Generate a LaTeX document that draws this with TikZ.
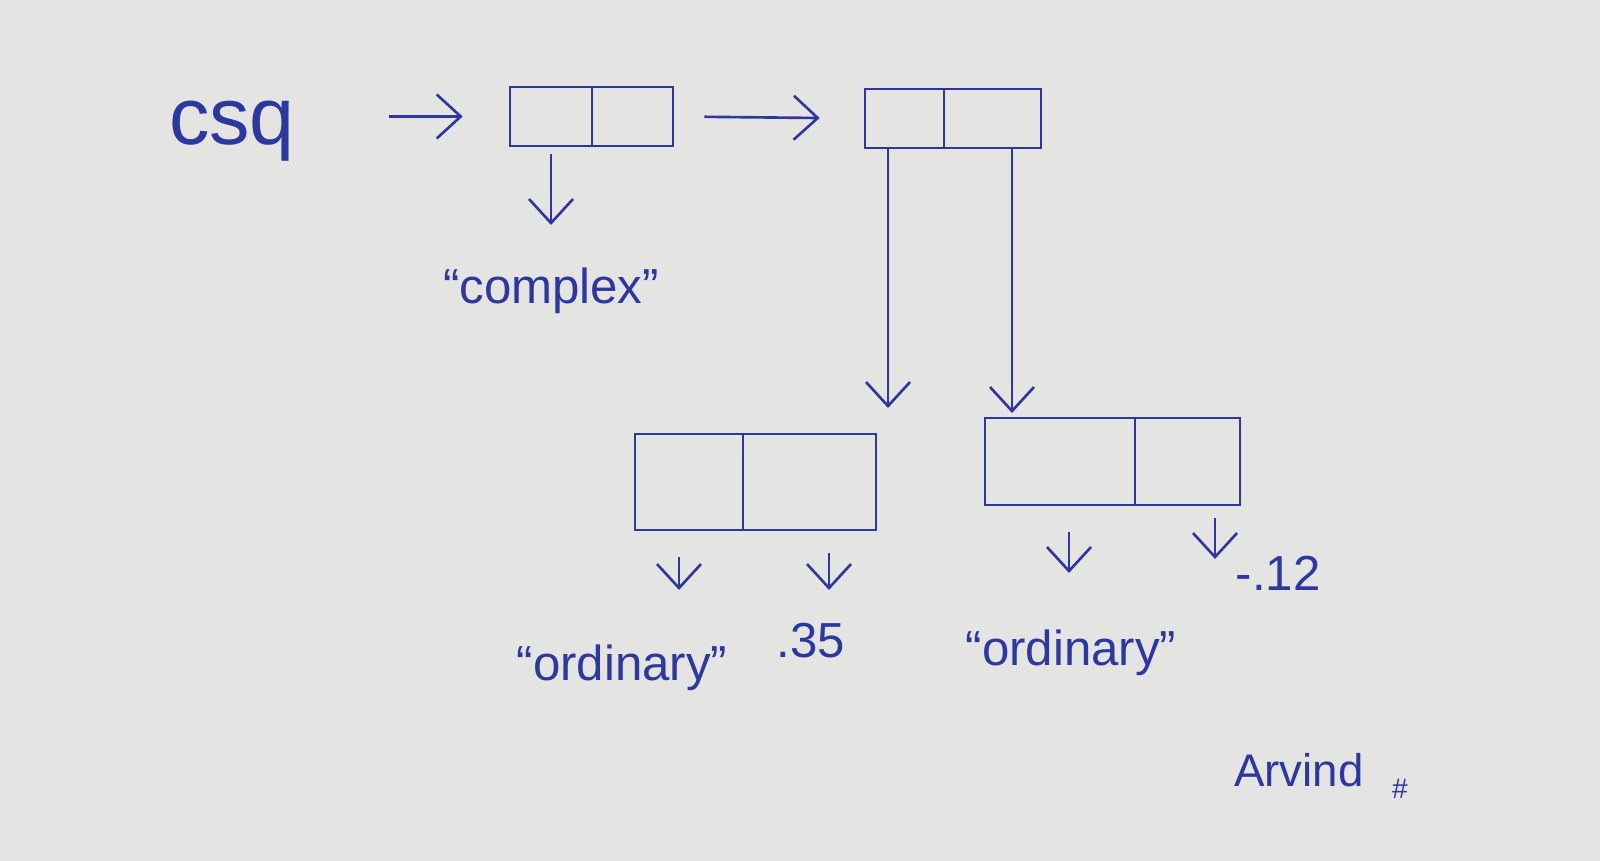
\documentclass[tikz,border=0pt]{standalone}
\usepackage{fontspec}
\setmainfont{Liberation Sans}
\usetikzlibrary{arrows.meta}

\definecolor{ink}{RGB}{45,55,160}
\definecolor{paper}{RGB}{228,228,226}

\tikzset{
  cell/.style={draw=ink, line width=0.75pt, inner sep=0pt},
  ptr/.style={ink, line width=0.75pt, ->},
  lbl/.style={text=ink, font=\fontsize{14}{16}\selectfont, inner sep=1pt}
}

\begin{document}
\begin{tikzpicture}[>={Straight Barb[length=2.4mm,width=4.4mm]}, scale=1]

  \fill[paper] (0,0) rectangle (16,8.61);

  % the name
  \node[lbl, font=\fontsize{23}{25}\selectfont] (csq) at (2.32,7.30) {csq};

  % cons cells
  \node[cell, minimum width=8.2mm, minimum height=5.9mm] (c1a) at (5.510,7.445) {};
  \node[cell, minimum width=8.1mm, minimum height=5.9mm] (c1b) at (6.325,7.445) {};

  \node[cell, minimum width=7.9mm, minimum height=5.9mm] (c2a) at (9.045,7.425) {};
  \node[cell, minimum width=9.7mm, minimum height=5.9mm] (c2b) at (9.925,7.425) {};

  \node[cell, minimum width=10.8mm, minimum height=9.6mm] (c3a) at (6.890,3.790) {};
  \node[cell, minimum width=13.3mm, minimum height=9.6mm] (c3b) at (8.095,3.790) {};

  \node[cell, minimum width=15mm, minimum height=8.7mm] (c4a) at (10.600,3.995) {};
  \node[cell, minimum width=10.5mm, minimum height=8.7mm] (c4b) at (11.875,3.995) {};

  % values
  \node[lbl] (cplx) at (5.51,5.70) {``complex''};
  \node[lbl] (ord1) at (6.22,1.93) {``ordinary''};
  \node[lbl] (val1) at (8.11,2.20) {.35};
  \node[lbl] (ord2) at (10.71,2.08) {``ordinary''};
  \node[lbl] (val2) at (12.78,2.88) {-.12};

  \node[lbl, font=\fontsize{13}{15}\selectfont] (arv) at (12.99,0.91) {Arvind};
  \node[lbl, font=\fontsize{8}{9}\selectfont] (hash) at (14.00,0.72) {\#};

  % arrow tips
  \coordinate (tcx) at (5.51,6.36);
  \coordinate (t2a) at (8.88,4.53);
  \coordinate (t2b) at (10.12,4.48);
  \coordinate (t3a) at (6.79,2.71);
  \coordinate (t3b) at (8.29,2.71);
  \coordinate (t4a) at (10.69,2.88);
  \coordinate (t4b) at (12.15,3.02);

  \draw[ptr, shorten <=9mm, shorten >=4.6mm] (c1a.west -| csq.east) -- (c1a.west);
  \draw[ptr, shorten <=3mm, shorten >=4.4mm] (c1b.east) -- (c2a.west);

  \draw[ptr, shorten <=0.7mm] (c1a.south -| tcx) -- (tcx);
  \draw[ptr] (c2a.south -| t2a) -- (t2a);
  \draw[ptr] (c2b.south -| t2b) -- (t2b);

  \draw[ptr, shorten <=2.6mm] (c3a.south -| t3a) -- (t3a);
  \draw[ptr, shorten <=2.2mm] (c3b.south -| t3b) -- (t3b);
  \draw[ptr, shorten <=2.6mm] (c4a.south -| t4a) -- (t4a);
  \draw[ptr, shorten <=1.2mm] (c4b.south -| t4b) -- (t4b);

\end{tikzpicture}
\end{document}
